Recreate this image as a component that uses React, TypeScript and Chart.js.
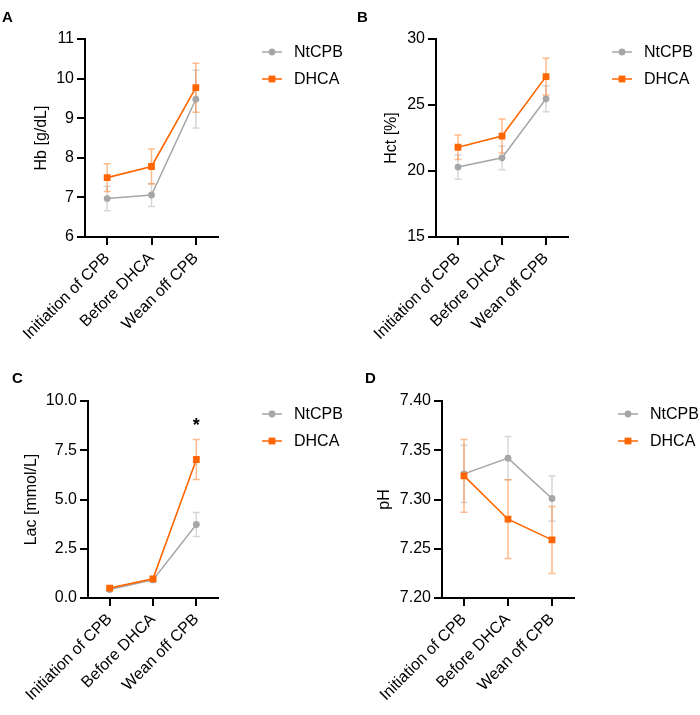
import React, { useEffect, useRef } from 'react';
import { Chart, registerables } from 'chart.js';

Chart.register(...registerables);

const FONT = "'Liberation Sans', Arial, Helvetica, sans-serif";

const categories = ['Initiation of CPB', 'Before DHCA', 'Wean off CPB'];
const seriesNames = ['NtCPB', 'DHCA'];

const hbNtCPB = [6.97, 7.06, 9.48];
const hbNtCPBSd = [0.31, 0.29, 0.73];
const hbDHCA = [7.5, 7.78, 9.77];
const hbDHCASd = [0.35, 0.44, 0.62];
const hbYTicks = [6, 7, 8, 9, 10, 11];

const hctNtCPB = [20.3, 21.0, 25.47];
const hctNtCPBSd = [0.92, 0.9, 0.98];
const hctDHCA = [21.8, 22.65, 27.15];
const hctDHCASd = [0.93, 1.28, 1.4];
const hctYTicks = [15, 20, 25, 30];

const lacNtCPB = [0.43, 0.92, 3.73];
const lacNtCPBSd = [0.08, 0.1, 0.61];
const lacDHCA = [0.5, 0.97, 7.03];
const lacDHCASd = [0.1, 0.12, 1.01];
const lacYTicks = [0, 2.5, 5, 7.5, 10];
const lacSignificance = ['', '', '*'];

const phNtCPB = [7.326, 7.342, 7.301];
const phNtCPBSd = [0.029, 0.022, 0.023];
const phDHCA = [7.324, 7.28, 7.259];
const phDHCASd = [0.037, 0.04, 0.034];
const phYTicks = [7.2, 7.25, 7.3, 7.35, 7.4];

const GREY = '#a6a6a6';
const ORANGE = '#ff6600';
const GREY_ERR = 'rgba(166,166,166,0.45)';
const ORANGE_ERR = 'rgba(255,102,0,0.45)';

type PanelDef = {
  letter: string;
  title: string;
  nt: number[];
  ntSd: number[];
  dh: number[];
  dhSd: number[];
  yTicks: number[];
  decimals: number;
  sig?: string[];
  left: number;
  top: number;
  width: number;
  height: number;
  padLeft: number;
  padTop: number;
  padRight: number;
  yWidth: number;
  xHeight: number;
  letterX: number;
  letterY: number;
};

const panels: PanelDef[] = [
  {
    letter: 'A', title: 'Hb [g/dL]', nt: hbNtCPB, ntSd: hbNtCPBSd, dh: hbDHCA, dhSd: hbDHCASd,
    yTicks: hbYTicks, decimals: 0,
    left: 0, top: 0, width: 350, height: 357, padLeft: 28, padTop: 39, padRight: 132, yWidth: 57, xHeight: 120,
    letterX: 2, letterY: 10,
  },
  {
    letter: 'B', title: 'Hct [%]', nt: hctNtCPB, ntSd: hctNtCPBSd, dh: hctDHCA, dhSd: hctDHCASd,
    yTicks: hctYTicks, decimals: 0,
    left: 350, top: 0, width: 350, height: 357, padLeft: 28, padTop: 39, padRight: 132, yWidth: 58, xHeight: 120,
    letterX: 7, letterY: 10,
  },
  {
    letter: 'C', title: 'Lac [mmol/L]', nt: lacNtCPB, ntSd: lacNtCPBSd, dh: lacDHCA, dhSd: lacDHCASd,
    yTicks: lacYTicks, decimals: 1, sig: lacSignificance,
    left: 0, top: 357, width: 350, height: 358, padLeft: 18, padTop: 44, padRight: 132, yWidth: 70, xHeight: 117,
    letterX: 12, letterY: 14,
  },
  {
    letter: 'D', title: 'pH', nt: phNtCPB, ntSd: phNtCPBSd, dh: phDHCA, dhSd: phDHCASd,
    yTicks: phYTicks, decimals: 2,
    left: 350, top: 357, width: 350, height: 358, padLeft: 21, padTop: 44, padRight: 126, yWidth: 71, xHeight: 117,
    letterX: 15, letterY: 14,
  },
];

function drawMarker(ctx: CanvasRenderingContext2D, style: string, x: number, y: number, color: string) {
  ctx.save();
  ctx.fillStyle = color;
  if (style === 'rect') {
    const s = 3.4;
    ctx.fillRect(x - s, y - s, 2 * s, 2 * s);
  } else {
    ctx.beginPath();
    ctx.arc(x, y, 3.4, 0, Math.PI * 2);
    ctx.fill();
  }
  ctx.restore();
}

function Panel({ p }: { p: PanelDef }) {
  const ref = useRef<HTMLCanvasElement | null>(null);
  useEffect(() => {
    if (!ref.current) return;
    const sds = [p.ntSd, p.dhSd];
    const errColors = [GREY_ERR, ORANGE_ERR];
    const colors = [GREY, ORANGE];
    const styles = ['circle', 'rect'];
    const extras = {
      id: 'extras',
      beforeDatasetsDraw(chart: any) {
        const ctx = chart.ctx as CanvasRenderingContext2D;
        const ys = chart.scales.y;
        ctx.save();
        for (let d = 0; d < 2; d++) {
          const meta = chart.getDatasetMeta(d);
          const vals = chart.data.datasets[d].data as number[];
          ctx.strokeStyle = errColors[d];
          ctx.lineWidth = 1.5;
          meta.data.forEach((pt: any, j: number) => {
            const x = pt.x;
            const hi = ys.getPixelForValue(vals[j] + sds[d][j]);
            const lo = ys.getPixelForValue(vals[j] - sds[d][j]);
            ctx.beginPath();
            ctx.moveTo(x, hi);
            ctx.lineTo(x, lo);
            ctx.moveTo(x - 3.5, hi);
            ctx.lineTo(x + 3.5, hi);
            ctx.moveTo(x - 3.5, lo);
            ctx.lineTo(x + 3.5, lo);
            ctx.stroke();
          });
        }
        ctx.restore();
      },
      afterDraw(chart: any) {
        const ctx = chart.ctx as CanvasRenderingContext2D;
        const area = chart.chartArea;
        ctx.save();
        ctx.fillStyle = '#000';
        ctx.font = `bold 15px ${FONT}`;
        ctx.textBaseline = 'top';
        ctx.textAlign = 'left';
        ctx.fillText(p.letter, p.letterX, p.letterY);
        const x0 = area.right + 44;
        seriesNames.forEach((name, i) => {
          const y = area.top + 13 + i * 27;
          ctx.strokeStyle = colors[i];
          ctx.lineWidth = 1.5;
          ctx.beginPath();
          ctx.moveTo(x0, y);
          ctx.lineTo(x0 + 20, y);
          ctx.stroke();
          drawMarker(ctx, styles[i], x0 + 10, y, colors[i]);
          ctx.fillStyle = '#000';
          ctx.font = `16px ${FONT}`;
          ctx.textBaseline = 'middle';
          ctx.fillText(name, x0 + 32, y + 1);
        });
        if (p.sig) {
          const ys = chart.scales.y;
          const meta = chart.getDatasetMeta(1);
          ctx.font = `bold 18px ${FONT}`;
          ctx.textAlign = 'center';
          ctx.textBaseline = 'alphabetic';
          p.sig.forEach((s, j) => {
            if (!s) return;
            const top = Math.max(p.nt[j] + p.ntSd[j], p.dh[j] + p.dhSd[j]);
            ctx.fillText(s, meta.data[j].x, ys.getPixelForValue(top) - 9);
          });
        }
        ctx.restore();
      },
    };

    const chart = new Chart(ref.current, {
      type: 'line',
      data: {
        labels: categories,
        datasets: [
          {
            label: seriesNames[0], data: p.nt, borderColor: GREY, backgroundColor: GREY,
            borderWidth: 1.5, pointStyle: 'circle', pointRadius: 3.4, pointBorderWidth: 0, order: 1,
          },
          {
            label: seriesNames[1], data: p.dh, borderColor: ORANGE, backgroundColor: ORANGE,
            borderWidth: 1.6, pointStyle: 'rect', pointRadius: 4.8, pointBorderWidth: 0, order: 0,
          },
        ],
      },
      options: {
        responsive: false,
        animation: false,
        events: [],
        layout: { padding: { left: p.padLeft, top: p.padTop, right: p.padRight, bottom: 0 } },
        plugins: { legend: { display: false }, tooltip: { enabled: false }, title: { display: false } },
        scales: {
          x: {
            type: 'category',
            offset: true,
            grid: { drawOnChartArea: false, drawTicks: true, tickLength: 8, color: '#000', lineWidth: 2, offset: false },
            border: { display: true, color: '#000', width: 2 },
            ticks: { color: '#000', font: { family: FONT, size: 16 }, minRotation: 45, maxRotation: 45, padding: 4, autoSkip: false },
            afterFit: (s: any) => { s.height = p.xHeight; },
          },
          y: {
            type: 'linear',
            min: p.yTicks[0],
            max: p.yTicks[p.yTicks.length - 1],
            afterBuildTicks: (s: any) => { s.ticks = p.yTicks.map((v) => ({ value: v })); },
            grid: { drawOnChartArea: false, drawTicks: true, tickLength: 8, color: '#000', lineWidth: 2 },
            border: { display: true, color: '#000', width: 2 },
            ticks: {
              color: '#000', font: { family: FONT, size: 16 }, padding: 3,
              callback: (v: any) => Number(v).toFixed(p.decimals),
            },
            title: { display: true, text: p.title, color: '#000', font: { family: FONT, size: 16 } },
            afterFit: (s: any) => { s.width = p.yWidth; },
          },
        },
      },
      plugins: [extras],
    } as any);
    return () => chart.destroy();
  }, [p]);
  return (
    <canvas
      ref={ref}
      width={p.width}
      height={p.height}
      style={{ position: 'absolute', left: p.left, top: p.top, width: p.width, height: p.height, display: 'block' }}
    />
  );
}

export default function App() {
  return (
    <div style={{ position: 'fixed', left: 0, top: 0, width: 700, height: 715, background: '#fff' }}>
      {panels.map((p) => (
        <Panel key={p.letter} p={p} />
      ))}
    </div>
  );
}
